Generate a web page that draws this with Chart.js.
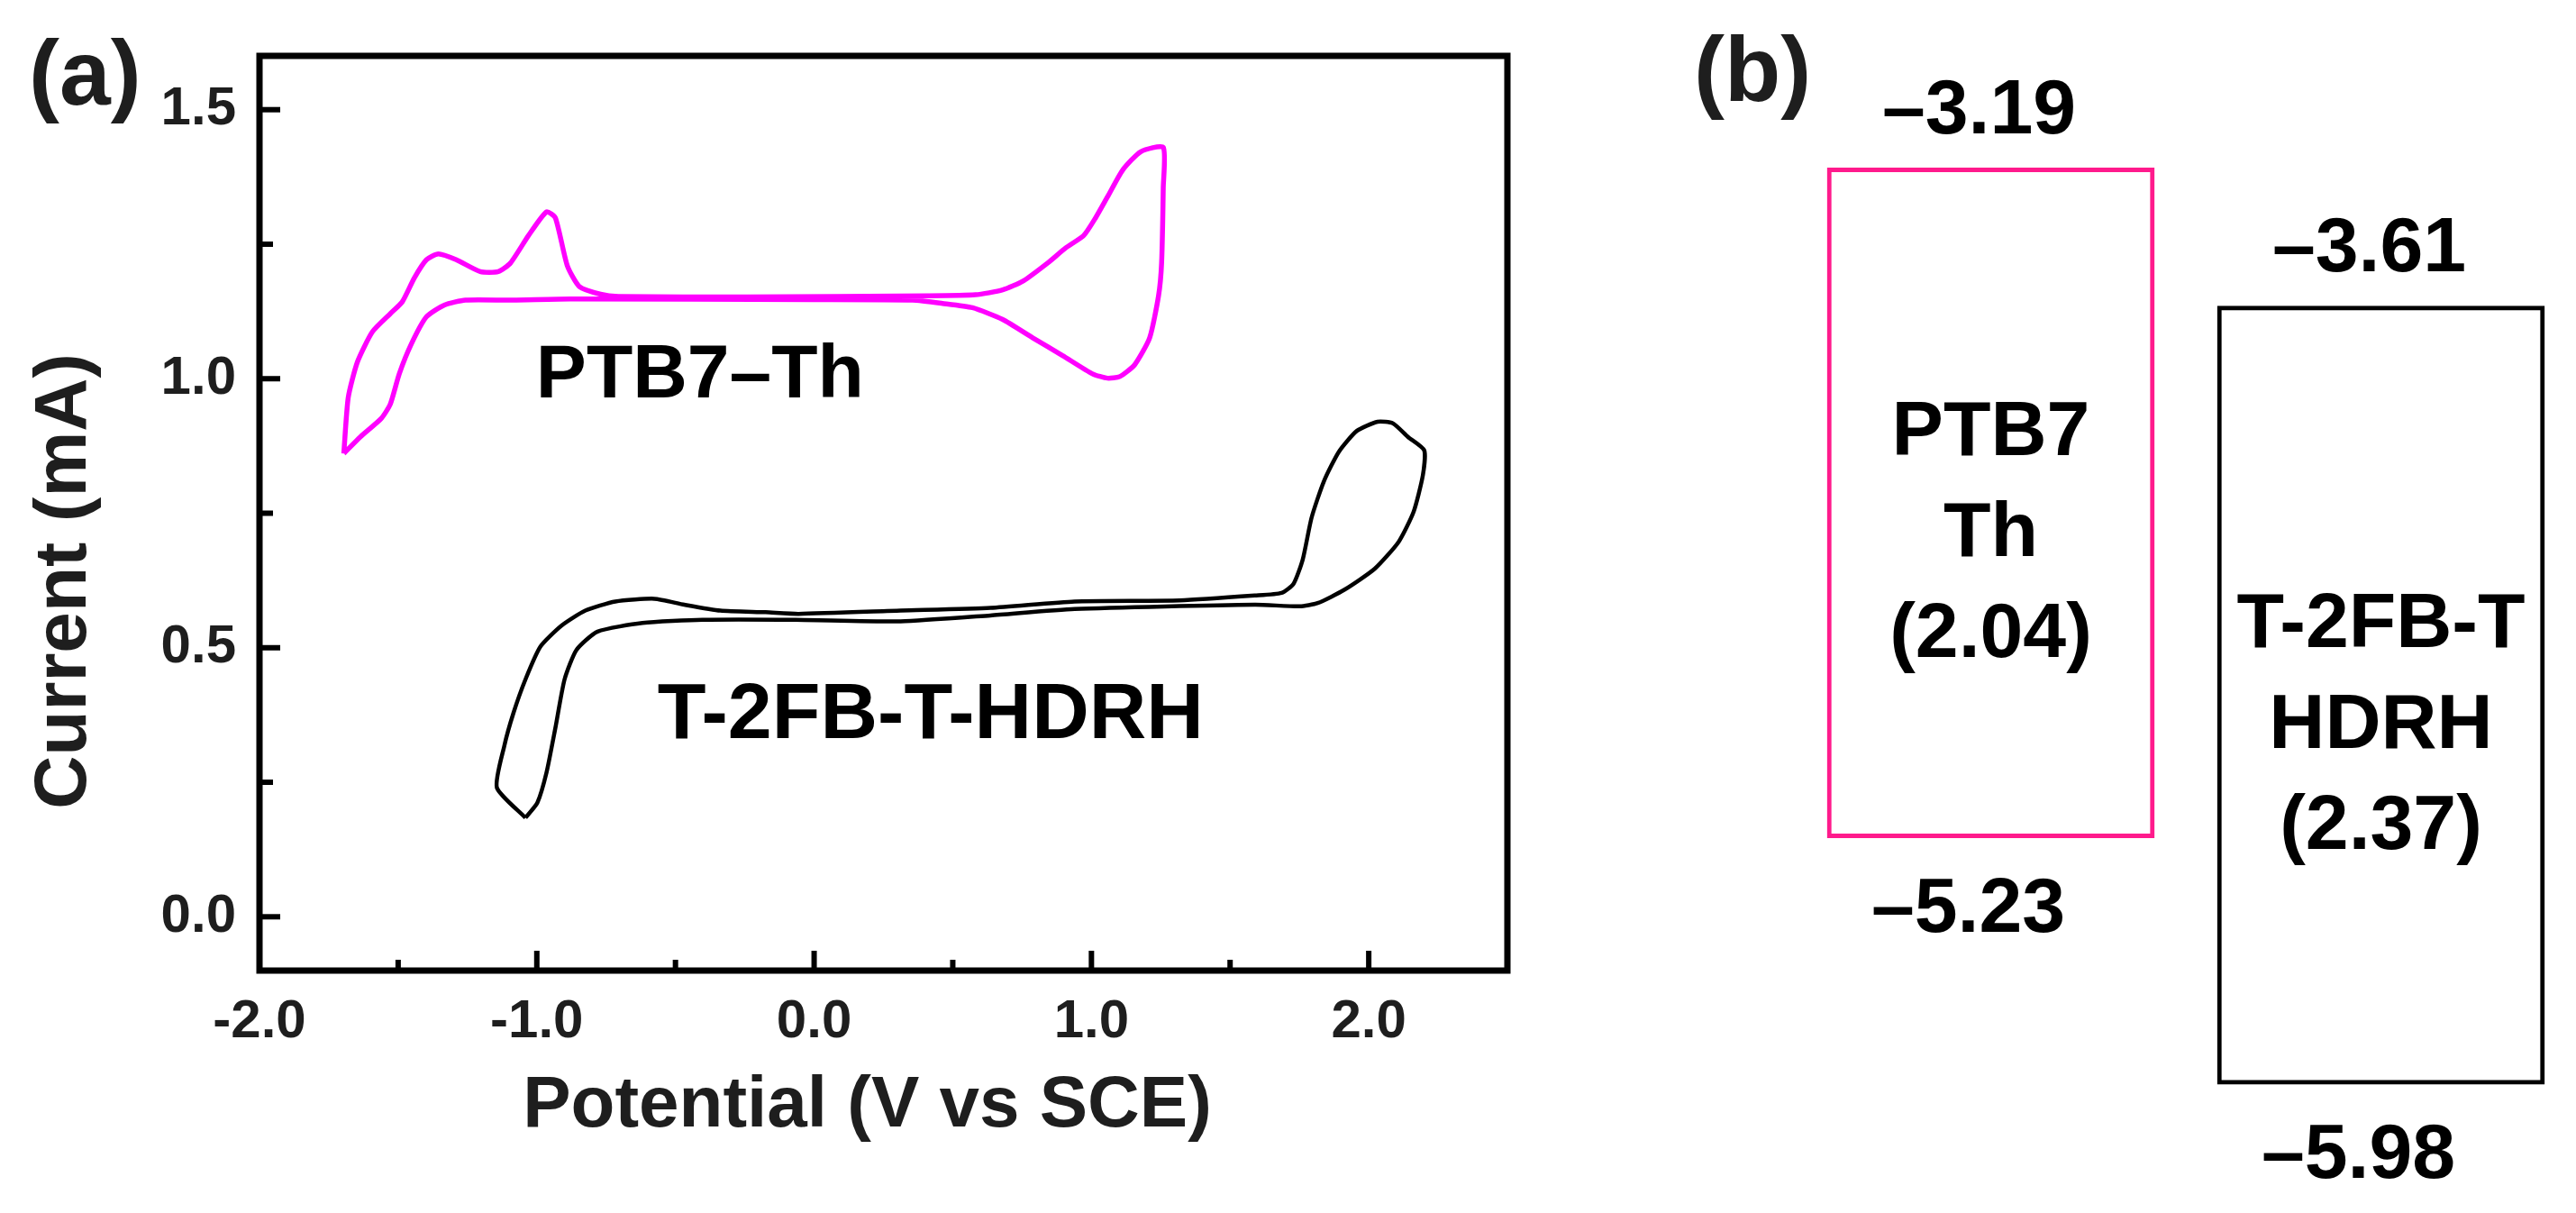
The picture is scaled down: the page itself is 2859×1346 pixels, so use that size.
<!DOCTYPE html>
<html>
<head>
<meta charset="utf-8">
<title>CV and energy levels</title>
<script src="https://cdn.jsdelivr.net/npm/chart.js@4.4.1/dist/chart.umd.min.js"></script>
<style>
  html, body { margin: 0; padding: 0; background: #fff; }
  #wrap { position: relative; width: 2859px; height: 1346px; }
  #cvBox { position: absolute; left: 0; top: 0; width: 1760px; height: 1346px; }
  #lvBox { position: absolute; left: 1760px; top: 0; width: 1099px; height: 1346px; }
</style>
</head>
<body>
<div id="wrap">
  <div id="cvBox"><canvas id="cvChart"></canvas></div>
  <div id="lvBox"><canvas id="levelChart"></canvas></div>
</div>
<script>
const FONT = "'Liberation Sans', Arial, Helvetica, sans-serif";
const TEXT = "#1e1e1e";

// (a) cyclic voltammograms
const ptbX = [-1.696, -1.680, -1.647, -1.593, -1.528, -1.485, -1.442, -1.398, -1.355, -1.290,
  -1.204, -1.139, -1.095, -1.030, -0.965, -0.933, -0.890, -0.846, -0.770, -0.706,
  -0.240, 0.409, 0.582, 0.680, 0.755, 0.842, 0.907, 0.972, 1.015, 1.058,
  1.113, 1.178, 1.259, 1.259, 1.253, 1.242, 1.210, 1.156, 1.102, 1.058,
  1.004, 0.896, 0.788, 0.680, 0.571, 0.463, 0.355, -0.002, -0.879, -1.095,
  -1.257, -1.333, -1.398, -1.452, -1.496, -1.528, -1.561, -1.636, -1.696];
const ptbY = [0.861, 0.965, 1.031, 1.087, 1.121, 1.143, 1.187, 1.221, 1.232, 1.221,
  1.199, 1.199, 1.215, 1.266, 1.310, 1.299, 1.210, 1.171, 1.157, 1.153,
  1.152, 1.154, 1.156, 1.165, 1.182, 1.215, 1.243, 1.266, 1.299, 1.338,
  1.388, 1.422, 1.430, 1.355, 1.215, 1.154, 1.076, 1.026, 1.004, 1.001,
  1.009, 1.043, 1.076, 1.110, 1.132, 1.140, 1.146, 1.147, 1.148, 1.146,
  1.146, 1.137, 1.115, 1.065, 1.009, 0.953, 0.926, 0.892, 0.861];

const hdrhX = [-1.041, -1.144, -1.117, -1.084, -1.041, -0.987, -0.911, -0.825, -0.717, -0.576,
  -0.468, -0.338, -0.175, -0.056, 0.312, 0.636, 0.939, 1.318, 1.589, 1.686,
  1.729, 1.762, 1.794, 1.838, 1.892, 1.957, 2.032, 2.087, 2.141, 2.200,
  2.195, 2.162, 2.108, 2.022, 1.913, 1.816, 1.751, 1.589, 0.939, 0.636,
  0.312, -0.067, -0.403, -0.619, -0.781, -0.857, -0.900, -0.933, -0.965, -0.998, -1.041];
const hdrhY = [0.184, 0.240, 0.318, 0.379, 0.441, 0.502, 0.541, 0.569, 0.586, 0.591,
  0.580, 0.569, 0.566, 0.563, 0.569, 0.574, 0.586, 0.588, 0.597, 0.602,
  0.619, 0.664, 0.742, 0.809, 0.864, 0.903, 0.920, 0.917, 0.892, 0.867,
  0.820, 0.753, 0.697, 0.647, 0.608, 0.583, 0.577, 0.580, 0.572, 0.560,
  0.549, 0.552, 0.552, 0.546, 0.530, 0.496, 0.441, 0.351, 0.268, 0.212, 0.184];

const xMajor = [-2, -1, 0, 1, 2];
const xMinor = [-1.5, -0.5, 0.5, 1.5];
const yMajor = [0, 0.5, 1, 1.5];
const yMinor = [0.25, 0.75, 1.25];

// (b) frontier levels in eV
const materials = ["PTB7–Th", "T-2FB-T-HDRH"];
const boxLines = [["PTB7", "Th"], ["T-2FB-T", "HDRH"]];
const lumo = [-3.19, -3.61];
const homo = [-5.23, -5.98];
const gaps = [2.04, 2.37];
const boxColors = ["#ff1a8c", "#000000"];

// label anchors in data units
const curveLabels = [
  { text: "PTB7–Th", x: -1.003, y: 0.965, size: 84 },
  { text: "T-2FB-T-HDRH", x: -0.565, y: 0.332, size: 88 }
];

const toPts = (xs, ys) => xs.map((x, i) => ({ x: x, y: ys[i] }));
const dash = v => "–" + Math.abs(v).toFixed(2);

const cvDecor = {
  id: "cvDecor",
  afterDraw(chart) {
    const { ctx, chartArea: a, scales: { x, y } } = chart;
    ctx.save();
    ctx.strokeStyle = "#000";
    ctx.lineWidth = 7;
    ctx.strokeRect(a.left, a.top, a.right - a.left, a.bottom - a.top);

    ctx.lineWidth = 6;
    const line = (x1, y1, x2, y2) => { ctx.beginPath(); ctx.moveTo(x1, y1); ctx.lineTo(x2, y2); ctx.stroke(); };
    xMajor.forEach(v => { const p = x.getPixelForValue(v); line(p, a.bottom, p, a.bottom - 22); });
    xMinor.forEach(v => { const p = x.getPixelForValue(v); line(p, a.bottom, p, a.bottom - 12); });
    yMajor.forEach(v => { const p = y.getPixelForValue(v); line(a.left, p, a.left + 23, p); });
    yMinor.forEach(v => { const p = y.getPixelForValue(v); line(a.left, p, a.left + 15, p); });

    ctx.fillStyle = "#000";
    ctx.textAlign = "left";
    ctx.textBaseline = "alphabetic";
    curveLabels.forEach(l => {
      ctx.font = `bold ${l.size}px ${FONT}`;
      ctx.fillText(l.text, x.getPixelForValue(l.x), y.getPixelForValue(l.y));
    });

    // axis titles
    ctx.fillStyle = TEXT;
    ctx.font = `bold 80px ${FONT}`;
    ctx.textAlign = "center";
    ctx.textBaseline = "middle";
    ctx.fillText("Potential (V vs SCE)", (a.left + a.right) / 2 - 18, 1228);
    ctx.save();
    ctx.translate(72, 645);
    ctx.rotate(-Math.PI / 2);
    ctx.font = `bold 82px ${FONT}`;
    ctx.fillText("Current (mA)", 0, 0);
    ctx.restore();

    ctx.font = `bold 102px ${FONT}`;
    ctx.textAlign = "left";
    ctx.textBaseline = "alphabetic";
    ctx.fillText("(a)", 32, 116);
    ctx.restore();
  }
};

new Chart(document.getElementById("cvChart"), {
  type: "scatter",
  data: {
    datasets: [
      { label: materials[0], data: toPts(ptbX, ptbY), showLine: true, borderColor: "#ff00ff",
        borderWidth: 5.5, pointRadius: 0, tension: 0.2, fill: false },
      { label: materials[1], data: toPts(hdrhX, hdrhY), showLine: true, borderColor: "#000000",
        borderWidth: 4.5, pointRadius: 0, tension: 0.2, fill: false }
    ]
  },
  options: {
    responsive: true,
    maintainAspectRatio: false,
    animation: false,
    layout: { padding: { top: 60, right: 87, left: 0, bottom: 0 } },
    plugins: { legend: { display: false }, tooltip: { enabled: false } },
    scales: {
      x: {
        type: "linear", min: -2, max: 2.5,
        afterBuildTicks: s => { s.ticks = xMajor.map(v => ({ value: v })); },
        afterFit: s => { s.height = 269; },
        grid: { display: true, drawOnChartArea: false, drawTicks: false, tickLength: 0 },
        border: { display: false },
        ticks: { callback: v => Number(v).toFixed(1), color: TEXT, padding: 21,
          maxRotation: 0, autoSkip: false, font: { family: FONT, size: 60, weight: "bold" } }
      },
      y: {
        type: "linear", min: -0.1, max: 1.6,
        afterBuildTicks: s => { s.ticks = yMajor.map(v => ({ value: v })); },
        afterFit: s => { s.width = 288; },
        grid: { display: true, drawOnChartArea: false, drawTicks: false, tickLength: 0 },
        border: { display: false },
        ticks: { callback: v => Number(v).toFixed(1), color: TEXT, padding: 26,
          autoSkip: false, font: { family: FONT, size: 60, weight: "bold" } }
      }
    }
  },
  plugins: [cvDecor]
});

const levelText = {
  id: "levelText",
  afterDraw(chart) {
    const { ctx, scales: { x, y } } = chart;
    ctx.save();
    ctx.fillStyle = "#000";
    ctx.textAlign = "center";
    ctx.font = `bold 86px ${FONT}`;
    materials.forEach((m, i) => {
      const cx = x.getPixelForValue(i);
      const top = y.getPixelForValue(lumo[i]);
      const bot = y.getPixelForValue(homo[i]);
      ctx.textBaseline = "alphabetic";
      ctx.fillText(dash(lumo[i]), cx - 13, top - 38);
      ctx.fillText(dash(homo[i]), cx - 25, bot + 104);
      const lines = boxLines[i].concat(["(" + gaps[i].toFixed(2) + ")"]);
      const mid = (top + bot) / 2 + 35;
      ctx.textBaseline = "middle";
      lines.forEach((t, k) => ctx.fillText(t, cx, mid + (k - 1) * 112));
    });
    ctx.fillStyle = TEXT;
    ctx.textAlign = "left";
    ctx.textBaseline = "alphabetic";
    ctx.font = `bold 102px ${FONT}`;
    ctx.fillText("(b)", 120, 112);
    ctx.restore();
  }
};

new Chart(document.getElementById("levelChart"), {
  type: "bar",
  data: {
    labels: materials,
    datasets: [{
      data: materials.map((_, i) => [homo[i], lumo[i]]),
      backgroundColor: "rgba(0,0,0,0)",
      borderColor: boxColors,
      borderWidth: 5,
      borderSkipped: false,
      barPercentage: 0.84,
      categoryPercentage: 1
    }]
  },
  options: {
    responsive: true,
    maintainAspectRatio: false,
    animation: false,
    layout: { padding: { left: 233, right: 0, top: 0, bottom: 0 } },
    plugins: { legend: { display: false }, tooltip: { enabled: false } },
    scales: {
      x: { display: false },
      y: { display: false, min: -6.371, max: -2.680 }
    }
  },
  plugins: [levelText]
});
</script>
</body>
</html>
